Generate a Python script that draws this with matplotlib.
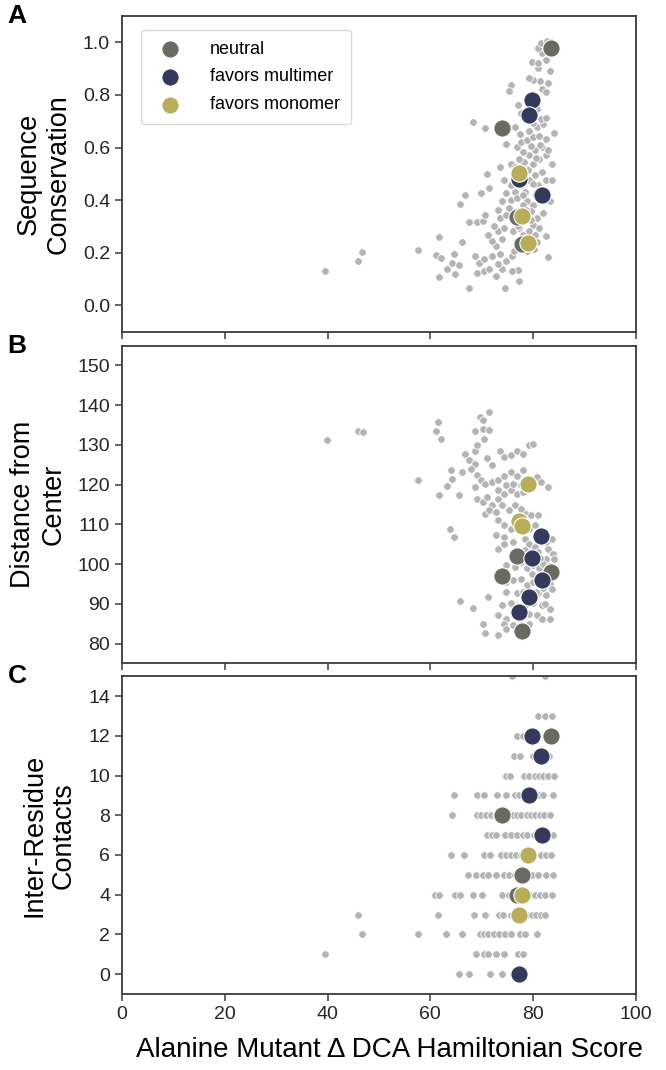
import matplotlib
matplotlib.use("Agg")
import matplotlib.pyplot as plt

plt.rcParams['font.family'] = ['Liberation Sans', 'DejaVu Sans']

# gray background points, panel A (score, sequence conservation)
a_x = [39.6, 45.9, 46.7, 57.6, 61.6, 61.0, 62.1, 61.7, 63.3, 64.3, 64.7, 64.5, 65.5, 66.1, 65.8,
       66.8, 67.6, 67.6, 68.2, 70.7, 71.1, 71.5, 69.9, 69.0, 70.2, 70.7, 68.7, 69.5, 70.5, 69.1,
       70.4, 71.5, 72.8, 74.5, 77.2, 77.1, 75.8, 74.0, 73.2, 72.0, 73.6, 74.8, 75.8, 72.8, 72.0,
       74.0, 71.2, 73.1, 74.4, 72.4, 73.6, 74.8, 73.1, 75.2, 73.9, 75.6, 74.8, 76.4, 75.6, 77.6,
       76.8, 78.4, 78.8, 78.0, 80.0, 79.6, 80.8, 80.0, 81.2, 79.2, 80.4, 82.4, 79.2, 78.8, 80.2,
       82.9, 76.8, 76.0, 77.2, 78.0, 79.6, 78.6, 77.4, 75.9, 79.2, 80.4, 81.7, 82.4, 83.6, 81.0,
       82.1, 83.3, 83.6, 82.4, 81.2, 80.0, 78.8, 78.3, 79.2, 80.4, 81.7, 82.9, 79.6, 78.0, 77.2,
       76.8, 77.6, 78.8, 80.0, 81.2, 82.4, 84.0, 80.8, 82.0, 81.5, 82.5, 80.0, 79.2, 77.5, 76.4,
       74.8, 75.6, 76.4, 73.6, 74.4, 77.1, 77.6, 80.8, 80.4, 81.7, 82.5, 81.3, 80.0, 79.2, 82.9,
       83.3, 81.0, 79.8, 81.0, 82.5, 81.7, 80.9, 81.5, 82.6, 83.4, 75.6, 75.2,
       78.1, 79.0, 80.6, 81.4, 77.0, 79.9, 81.9, 76.2, 78.5, 80.7]
a_y = [0.129, 0.169, 0.202, 0.210, 0.259, 0.193, 0.179, 0.107, 0.140, 0.160, 0.119, 0.194, 0.154,
       0.241, 0.387, 0.420, 0.316, 0.065, 0.698, 0.673, 0.501, 0.447, 0.429, 0.317, 0.322, 0.345,
       0.188, 0.163, 0.175, 0.122, 0.132, 0.138, 0.113, 0.065, 0.094, 0.134, 0.132, 0.138, 0.157,
       0.188, 0.194, 0.169, 0.188, 0.226, 0.244, 0.251, 0.269, 0.282, 0.294, 0.301, 0.332, 0.345,
       0.363, 0.370, 0.395, 0.401, 0.426, 0.432, 0.457, 0.457, 0.407, 0.432, 0.395, 0.382, 0.382,
       0.357, 0.332, 0.307, 0.294, 0.282, 0.269, 0.263, 0.244, 0.207, 0.213, 0.184, 0.232, 0.282,
       0.294, 0.269, 0.326, 0.363, 0.357, 0.326, 0.476, 0.495, 0.507, 0.476, 0.476, 0.457, 0.439,
       0.395, 0.539, 0.570, 0.557, 0.539, 0.520, 0.545, 0.570, 0.589, 0.602, 0.589, 0.607, 0.583,
       0.557, 0.602, 0.620, 0.627, 0.639, 0.645, 0.633, 0.655, 0.677, 0.689, 0.708, 0.714, 0.695,
       0.664, 0.652, 0.679, 0.614, 0.539, 0.526, 0.526, 0.476, 0.761, 0.733, 0.745, 0.783, 0.821,
       0.811, 0.852, 0.858, 0.865, 0.846, 0.890, 0.902, 0.927, 0.921, 0.934, 0.959, 0.977, 0.996,
       1.005, 1.000, 0.836, 0.815,
       0.420, 0.515, 0.560, 0.610, 0.300, 0.460, 0.350, 0.205, 0.255, 0.240]

# gray background points, panel B (score, distance from center)
b_x = [39.8, 45.9, 46.9, 57.6, 61.4, 61.0, 62.0, 61.6, 63.2, 64.3, 64.1, 65.5, 66.1, 63.9, 64.5,
       65.7, 68.2, 66.7, 67.5, 68.7, 69.1, 68.7, 69.7, 70.2, 70.3, 71.5, 71.5, 70.5, 71.1, 71.9,
       73.6, 74.4, 75.6, 76.8, 78.0, 79.2, 80.0, 68.7, 67.9, 69.1, 69.9, 68.7, 70.7, 71.9, 73.1,
       74.4, 75.6, 76.8, 78.0, 80.8, 81.5, 82.9, 69.0, 70.2, 71.1, 71.9, 73.1, 73.1, 74.4, 75.6,
       76.8, 78.0, 74.8, 76.0, 77.6, 70.7, 71.5, 72.7, 73.9, 75.2, 76.4, 77.6, 78.6, 79.6, 81.0,
       73.1, 74.4, 75.6, 79.2, 80.4, 72.8, 74.4, 76.0, 78.4, 79.2, 80.4, 82.4, 83.6, 82.9, 83.8,
       82.4, 84.0, 73.1, 74.4, 78.4, 74.8, 76.4, 77.6, 78.8, 80.0, 81.2, 82.0, 74.8, 76.0, 77.6,
       78.8, 80.0, 83.3, 83.7, 74.8, 76.8, 78.0, 81.0, 82.4, 71.3, 73.9, 75.6, 78.4, 80.0, 81.7,
       83.3, 73.1, 74.8, 79.2, 80.8, 81.7, 83.3, 70.3, 70.7, 73.1, 74.4, 74.8, 76.0, 79.2,
       80.9, 82.8, 81.9, 79.8, 83.0, 78.2, 80.6, 76.9, 82.2, 81.3]
b_y = [131.3, 133.4, 133.2, 121.2, 135.7, 133.6, 131.4, 117.5, 119.6, 121.5, 123.8, 117.5, 123.2,
       108.9, 106.7, 90.6, 89.0, 127.6, 126.1, 128.4, 130.0, 133.4, 137.0, 136.2, 134.1, 138.3,
       133.8, 131.6, 126.7, 125.0, 128.4, 126.9, 127.4, 128.4, 127.8, 129.9, 130.3, 125.3, 124.0,
       122.5, 121.1, 119.4, 120.2, 120.7, 121.1, 122.3, 123.2, 122.3, 123.6, 121.9, 120.7, 119.4,
       116.5, 115.6, 116.9, 115.0, 116.5, 118.6, 117.7, 118.6, 117.7, 118.1, 119.8, 120.2, 119.8,
       112.7, 113.5, 113.1, 114.8, 113.5, 114.8, 113.9, 112.7, 112.3, 112.3, 111.0, 109.8, 108.9,
       108.9, 109.8, 107.4, 106.8, 105.6, 106.4, 105.1, 104.3, 105.6, 106.2, 103.9, 102.6, 101.4,
       101.4, 103.9, 105.1, 103.5, 99.7, 99.3, 100.5, 98.9, 99.7, 98.9, 100.1, 95.5, 95.9, 96.3,
       94.7, 95.5, 95.1, 93.8, 93.0, 92.6, 93.0, 92.6, 92.2, 91.7, 89.8, 90.1, 89.6, 90.1, 89.6,
       88.6, 87.1, 86.3, 87.5, 87.1, 86.3, 86.3, 84.8, 82.7, 82.1, 85.0, 83.6, 84.6, 85.0,
       103.0, 97.0, 94.0, 97.5, 99.5, 102.0, 93.0, 103.0, 90.0, 101.5]

# gray background points, panel C (score, inter-residue contacts)
c_x = [75.9, 82.3,
       80.9, 82.3, 83.7,
       76.8, 78.1,
       76.2, 77.5, 79.9, 83.1,
       74.7, 75.4, 78.3, 79.1, 80.3, 81.1, 81.9, 82.9, 84.1,
       64.5, 69.0, 70.4, 73.0, 74.7, 76.4, 77.2, 80.3, 81.1, 81.9, 83.9,
       64.2, 69.0, 69.8, 70.8, 71.8, 72.8, 75.2, 76.0, 76.8, 77.6, 78.7, 79.5, 80.3, 81.3, 82.1, 83.3,
       71.0, 72.0, 72.8, 74.6, 75.6, 76.8, 78.0, 78.8, 80.1, 80.9, 83.9,
       64.1, 66.6, 70.5, 71.6, 73.8, 74.8, 75.6, 76.6, 77.6, 81.5, 82.5, 83.5,
       67.4, 68.8, 70.2, 71.2, 72.8, 74.4, 75.2, 76.4, 79.7, 80.9, 82.5, 83.9,
       60.9, 61.7, 64.7, 65.8, 68.2, 70.0, 74.0, 75.2, 79.3, 80.3, 81.3, 82.3, 83.7,
       45.9, 61.5, 68.5, 70.6, 73.4, 74.2, 75.6, 78.8, 79.7, 80.6, 81.5, 82.3,
       46.7, 57.6, 63.1, 66.2, 69.6, 70.4, 71.3, 72.4, 73.4, 74.6, 75.6, 77.5, 78.5, 80.7,
       39.5, 68.8, 70.4, 71.2, 72.8, 74.3, 77.1, 78.0,
       65.5, 67.6, 71.6, 74.0]
c_y = [15] * 2 + [13] * 3 + [12] * 2 + [11] * 4 + [10] * 9 + [9] * 11 + [8] * 16 + [7] * 11 \
      + [6] * 12 + [5] * 12 + [4] * 13 + [3] * 12 + [2] * 14 + [1] * 8 + [0] * 4

# highlighted residues (same residues in every panel)
groups = ['neutral', 'favors multimer', 'favors monomer']
colors = ['#686a63', '#353a5c', '#b8ad5a']
hl_x = [[83.4, 73.9, 76.9, 77.9],
        [79.7, 81.5, 79.1, 81.7, 77.2],
        [79.0, 77.2, 77.8]]
hl_cons = [[0.977, 0.673, 0.336, 0.234],
           [0.780, 0.420, 0.723, 0.420, 0.482],
           [0.238, 0.505, 0.338]]
hl_dist = [[97.9, 97.0, 102.1, 83.1],
           [101.5, 107.0, 91.7, 95.9, 88.0],
           [120.2, 110.8, 109.5]]
hl_cont = [[12, 8, 4, 5],
           [12, 11, 9, 7, 0],
           [6, 3, 4]]

fig = plt.figure(figsize=(6.66, 10.70), dpi=100)
left, width = 0.183, 0.772
ax_a = fig.add_axes([left, 0.690, width, 0.295])
ax_b = fig.add_axes([left, 0.380, width, 0.297])
ax_c = fig.add_axes([left, 0.071, width, 0.297])

panels = [
    (ax_a, a_x, a_y, hl_cons, (-0.1, 1.1), [0.0, 0.2, 0.4, 0.6, 0.8, 1.0], 'Sequence\nConservation', 'A'),
    (ax_b, b_x, b_y, hl_dist, (75, 155), list(range(80, 151, 10)), 'Distance from\nCenter', 'B'),
    (ax_c, c_x, c_y, hl_cont, (-1, 15), list(range(0, 15, 2)), 'Inter-Residue\nContacts', 'C'),
]

for ax, gx, gy, hy, ylim, yticks, ylabel, letter in panels:
    ax.scatter(gx, gy, s=30, color='#b4b4b4', edgecolor='white', linewidth=0.6, zorder=2)
    for i in range(len(groups)):
        ax.scatter(hl_x[i], hy[i], s=155, color=colors[i], edgecolor='white',
                   linewidth=0.8, zorder=3, label=groups[i])
    ax.set_xlim(0, 100)
    ax.set_ylim(*ylim)
    ax.set_yticks(yticks)
    ax.set_xticks(range(0, 101, 20))
    ax.set_ylabel(ylabel, fontsize=19.5, labelpad=8)
    for sp in ax.spines.values():
        sp.set_color('#3a3a3a')
        sp.set_linewidth(1.3)
    ax.tick_params(labelsize=14, colors='#3a3a3a', labelcolor='#262626',
                   length=5, width=1.1, direction='out')
    ax.text(-0.222, 1.0, letter, transform=ax.transAxes, fontsize=19,
            fontweight='bold', va='center', ha='left')

ax_a.tick_params(labelbottom=False)
ax_b.tick_params(labelbottom=False)
ax_c.set_xlabel('Alanine Mutant \u0394 DCA Hamiltonian Score', fontsize=20, labelpad=14)
ax_c.xaxis.set_label_coords(0.52, -0.135)

leg = ax_a.legend(loc='upper left', fontsize=13, frameon=True, borderpad=0.6,
                  labelspacing=0.6, handletextpad=1.2, bbox_to_anchor=(0.02, 0.985))
leg.get_frame().set_edgecolor('#d0d0d0')

fig.savefig('out.png', dpi=100)
